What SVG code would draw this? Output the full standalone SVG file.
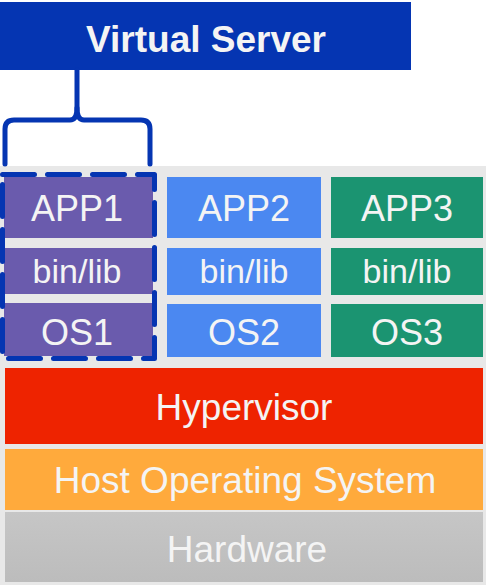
<svg xmlns="http://www.w3.org/2000/svg" width="486" height="585" viewBox="0 0 486 585">
<defs>
<linearGradient id="hw" x1="0" y1="0" x2="0" y2="1">
<stop offset="0" stop-color="#c6c6c6"/>
<stop offset="1" stop-color="#bcbcbc"/>
</linearGradient>
</defs>
<style>
text{font-family:"Liberation Sans",Arial,sans-serif;text-anchor:middle;fill:#f4f4f4}
.t{font-size:36px}
.w{font-size:37px}
.s{font-size:34px}
.p{fill:#6a5bad}
.b{fill:#4b88f1}
.g{fill:#1b9471}
.conn{fill:none;stroke:#0535b2;stroke-width:5;stroke-linecap:round;stroke-linejoin:round}
</style>
<rect x="0" y="0" width="486" height="585" fill="#ffffff"/>
<rect x="0" y="166" width="486" height="419" fill="#e8e8e8"/>
<g id="virtual-server">
<rect x="0" y="2" width="411" height="68" fill="#0535b2"/>
<text x="206" y="52" style="font-size:37px;font-weight:bold">Virtual Server</text>
</g>
<g id="vm1">
<rect class="p" x="4" y="177" width="149" height="61"/>
<text class="t" x="77" y="221">APP1</text>
<rect class="p" x="4" y="248" width="149" height="46"/>
<text class="s" x="77" y="283">bin/lib</text>
<rect class="p" x="4" y="303" width="149" height="53"/>
<text class="t" x="77" y="345">OS1</text>
</g>
<g id="vm2">
<rect class="b" x="167" y="177" width="154" height="61"/>
<text class="t" x="244" y="221">APP2</text>
<rect class="b" x="167" y="248" width="154" height="47"/>
<text class="s" x="244" y="283">bin/lib</text>
<rect class="b" x="167" y="304" width="154" height="53"/>
<text class="t" x="244" y="345">OS2</text>
</g>
<g id="vm3">
<rect class="g" x="331" y="177" width="152" height="61"/>
<text class="t" x="407" y="221">APP3</text>
<rect class="g" x="331" y="248" width="152" height="47"/>
<text class="s" x="407" y="283">bin/lib</text>
<rect class="g" x="331" y="304" width="152" height="53"/>
<text class="t" x="407" y="345">OS3</text>
</g>
<g id="hypervisor">
<rect x="5" y="368" width="478" height="76" fill="#ee2300"/>
<text class="w" x="244" y="420">Hypervisor</text>
</g>
<g id="host-os">
<rect x="5" y="449" width="478" height="61" fill="#ffaa3c"/>
<text class="w" x="245" y="493">Host Operating System</text>
</g>
<g id="hardware">
<rect x="5" y="512" width="478" height="70" fill="url(#hw)"/>
<text class="w" x="247" y="562">Hardware</text>
</g>
<g id="connectors">
<path class="conn" d="M77 70 L77 108 Q77 120 70 120 L14 120 Q5 120 5 129 L5 164"/>
<path class="conn" d="M77 108 Q77 120 84 120 L141 120 Q150 120 150 129 L150 164"/>
<rect class="conn" x="2.5" y="174.5" width="152" height="184" stroke-dasharray="32 13" stroke-linecap="butt"/>
</g>
</svg>
